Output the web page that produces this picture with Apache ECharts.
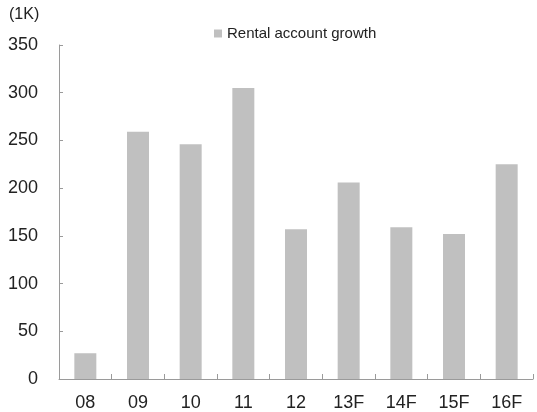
<!DOCTYPE html>
<html>
<head>
<meta charset="utf-8">
<style>
  html, body { margin: 0; padding: 0; background: #fff; }
  #chart { width: 537px; height: 412px; }
</style>
<script src="https://cdn.jsdelivr.net/npm/echarts@6/dist/echarts.min.js"></script>
</head>
<body>
<div id="chart"></div>
<script>
// Yearly rental account growth, thousands of accounts (F = forecast)
const categories = ['08', '09', '10', '11', '12', '13F', '14F', '15F', '16F'];
const rentalGrowth = [27, 259, 246, 305, 157, 206, 159, 152, 225];
const yTicks = { min: 0, max: 350, step: 50 };
const seriesName = 'Rental account growth';
const unitLabel = '(1K)';

const chart = echarts.init(document.getElementById('chart'), null, { renderer: 'canvas' });
const font = 'Liberation Sans, Arial, sans-serif';
const axisGray = '#9a9a9a';

chart.setOption({
  animation: false,
  textStyle: { fontFamily: font },
  grid: { left: 59, right: 4, top: 45, bottom: 31, containLabel: false },
  legend: {
    data: [seriesName],
    left: 209,
    top: 21,
    icon: 'rect',
    itemWidth: 8,
    itemHeight: 8,
    itemGap: 6,
    textStyle: { fontFamily: font, fontSize: 15, color: '#222' }
  },
  graphic: [{
    type: 'text',
    left: 9,
    top: 7,
    style: { text: unitLabel, fontFamily: font, fontSize: 16, fill: '#222' }
  }],
  xAxis: {
    type: 'category',
    data: categories,
    boundaryGap: true,
    axisLine: { lineStyle: { color: axisGray, width: 1 } },
    axisTick: { show: true, inside: true, length: 5, alignWithLabel: false, lineStyle: { color: axisGray } },
    axisLabel: { color: '#222', fontSize: 18, margin: 15, fontFamily: font }
  },
  yAxis: {
    type: 'value',
    min: yTicks.min,
    max: yTicks.max,
    interval: yTicks.step,
    axisLine: { show: true, lineStyle: { color: axisGray, width: 1 } },
    axisTick: { show: true, inside: true, length: 4, lineStyle: { color: axisGray } },
    splitLine: { show: false },
    axisLabel: { color: '#222', fontSize: 18, margin: 21, fontFamily: font }
  },
  series: [{
    name: seriesName,
    type: 'bar',
    data: rentalGrowth,
    barWidth: 22,
    itemStyle: { color: '#c0c0c0' }
  }]
});
</script>
</body>
</html>
